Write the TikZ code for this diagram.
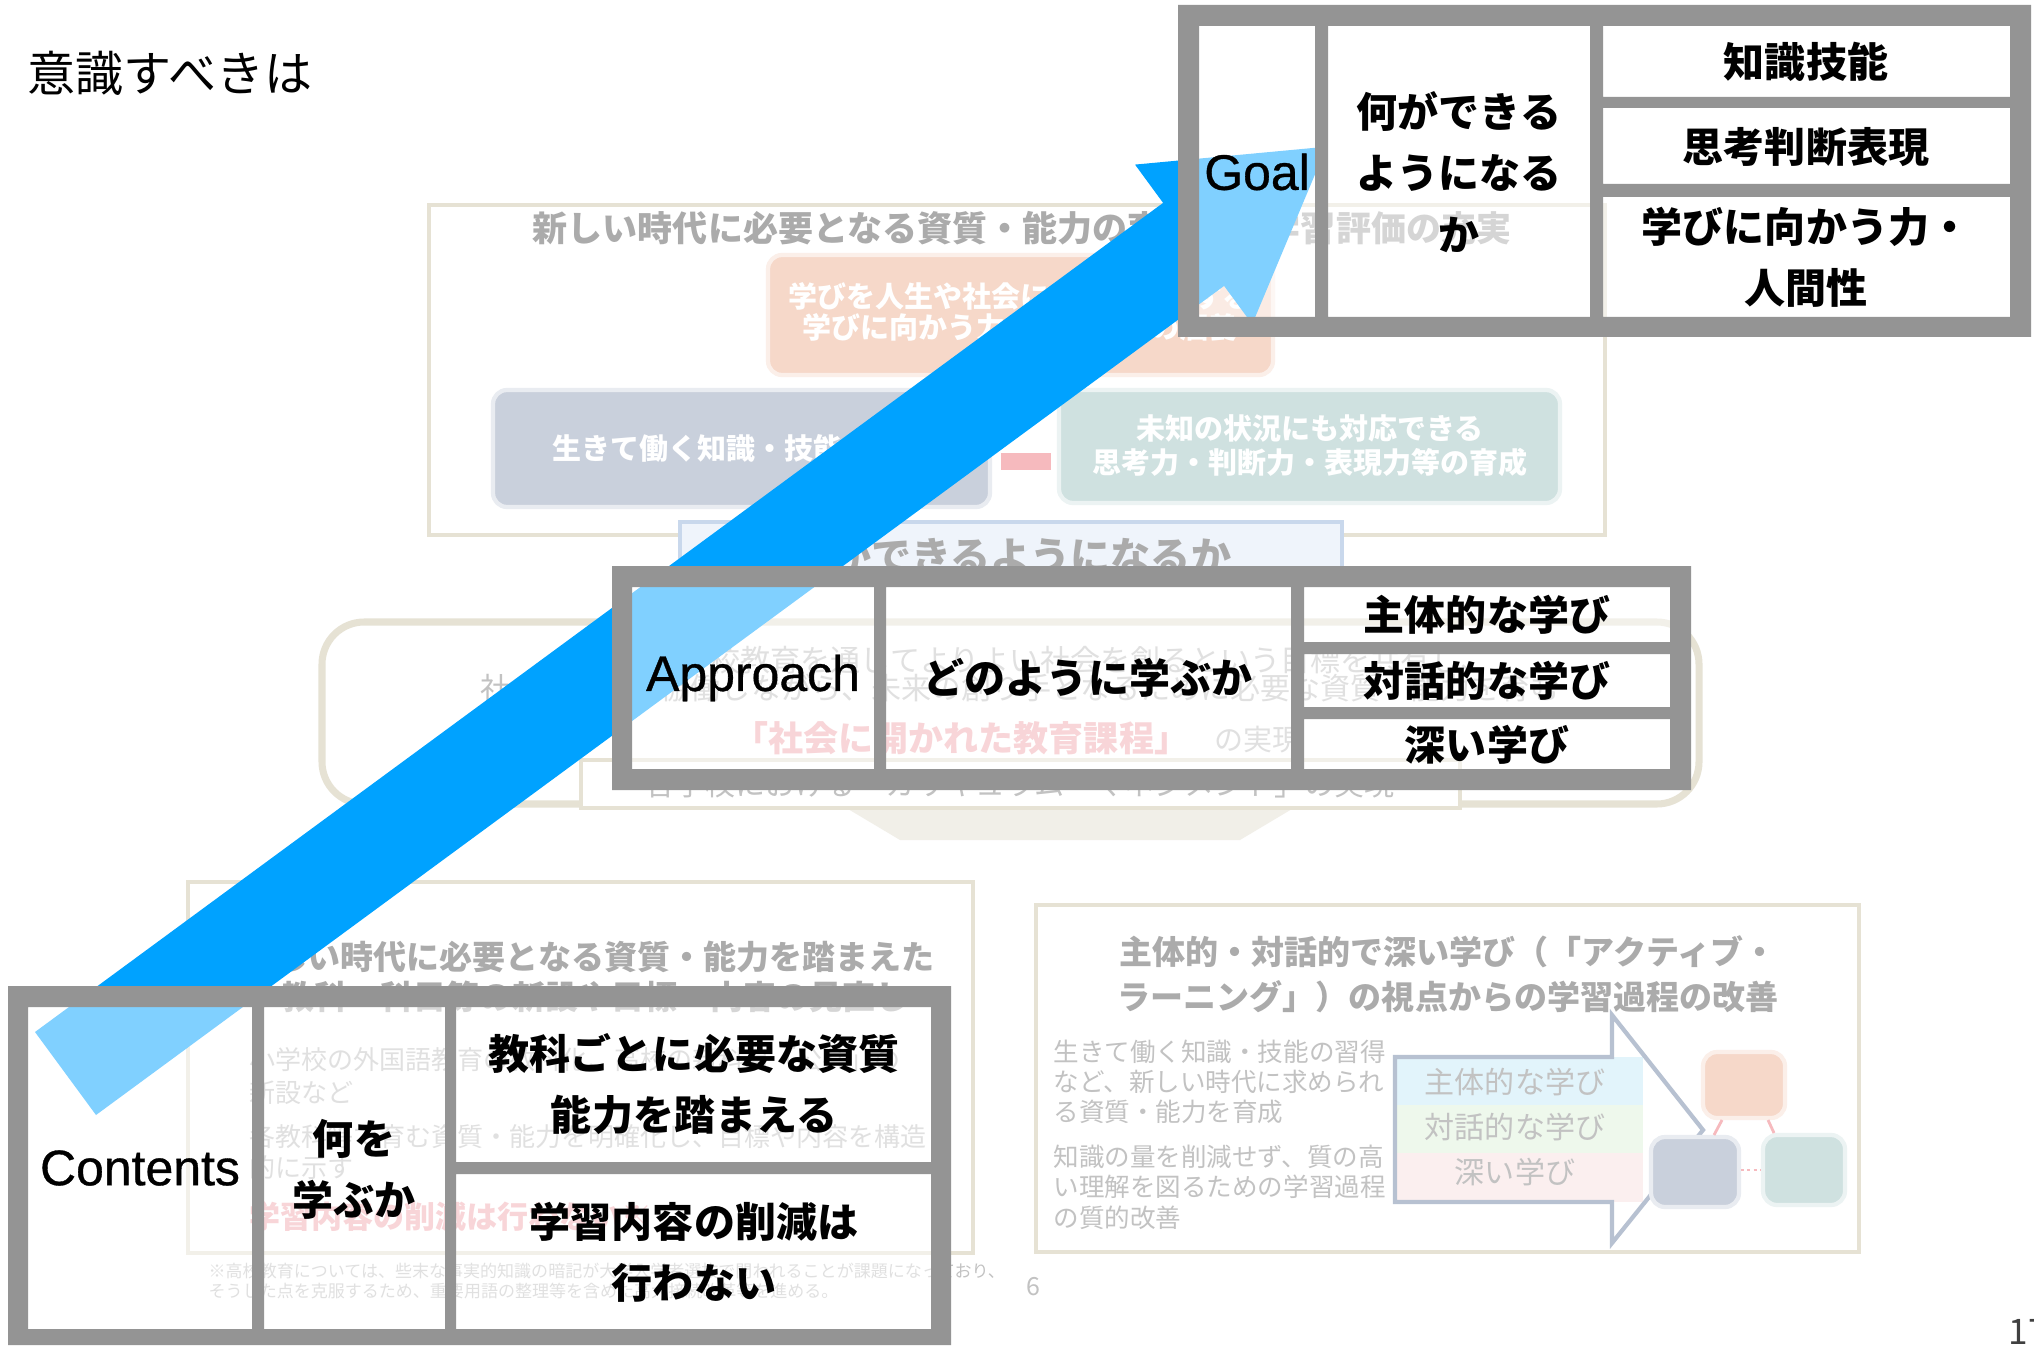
\documentclass[tikz,border=0pt]{standalone}
\usepackage{fontspec}
\setmainfont{Noto Sans CJK JP}
\newfontfamily\latinfont{Liberation Sans}[FakeBold=0.7]
\definecolor{boxgray}{HTML}{949494}
\definecolor{arrowblue}{HTML}{00A2FF}
\definecolor{bgtitle}{HTML}{ABABAB}
\definecolor{bgtext}{HTML}{C2C2C2}
\definecolor{bgred}{HTML}{F2ACB2}
\definecolor{beige}{HTML}{E6E2D4}
\definecolor{bannerfill}{HTML}{EFF4FB}
\definecolor{bannerline}{HTML}{C9D8EC}
\definecolor{peach}{HTML}{F6D8C9}
\definecolor{slate}{HTML}{C9D0DC}
\definecolor{bgteal}{HTML}{CFE1E0}
\definecolor{pinkc}{HTML}{F6BABE}
\definecolor{bandc}{HTML}{E2F4FB}
\definecolor{bandg}{HTML}{EEF8EC}
\definecolor{bandp}{HTML}{FBEFEF}
\definecolor{arrline}{HTML}{B7C1D1}
\definecolor{paleshape}{HTML}{F1EFE8}
\tikzset{
  lab/.style={inner sep=0, align=center, text=black, font=\bfseries\fontsize{11.67}{17.4}\selectfont},
  latin/.style={inner sep=0, text=black, font=\latinfont\fontsize{14.2}{17}\selectfont},
  bgb/.style={inner sep=0, text=bgtitle, font=\bfseries\fontsize{#1}{#1}\selectfont},
  bgr/.style={inner sep=0, text=bgtext, font=\fontsize{#1}{#1}\selectfont},
  bgw/.style={inner sep=0, text=white, font=\bfseries\fontsize{#1}{#1}\selectfont},
  bgred/.style={inner sep=0, text=bgred, font=\bfseries\fontsize{#1}{#1}\selectfont},
  frame/.style={draw=beige, line width=1pt, fill=white},
  banner/.style={draw=bannerline, line width=1.2pt, fill=bannerfill},
  softbox/.style={rounded corners=4pt, line width=1.2pt}
}
\begin{document}
\begin{tikzpicture}[x=0.01cm,y=-0.01cm]
\useasboundingbox (0,0) rectangle (2034,1346);
\fill[white] (0,0) rectangle (2034,1346);

% ================= faded background slide =================
% top frame
\draw[frame] (429,205) rectangle (1605,535);
\node[bgb=9.96] (bgT1) at (1022,228) {新しい時代に必要となる資質・能力の育成と、学習評価の充実};
\draw[softbox, fill=peach, draw=peach!40] (768,255) rectangle (1273,375);
\node[bgw=8.25] (bgO1) at (1020,296) {学びを人生や社会に生かそうとする};
\node[bgw=8.25] (bgO2) at (1020,327) {学びに向かう力・人間性等の涵養};
\draw[softbox, fill=slate, draw=slate!40] (493,390) rectangle (990,507);
\node[bgw=8.25] (bgS1) at (741,448) {生きて働く知識・技能の習得};
\fill[pinkc] (1001,453) rectangle (1051,470);
\draw[softbox, fill=bgteal, draw=bgteal!40] (1059,390) rectangle (1560,503);
\node[bgw=8.25] (bgG1) at (1310,428) {未知の状況にも対応できる};
\node[bgw=8.25] (bgG2) at (1310,462) {思考力・判断力・表現力等の育成};
\draw[banner] (680,522) rectangle (1342,572);
\node[bgb=11.4] (bgB1) at (1011,556) {何ができるようになるか};

% middle frame
\draw[draw=beige, line width=2pt, rounded corners=12pt, fill=white] (322,622) rectangle (1699,804);
\fill[paleshape] (843,806) -- (1297,806) -- (1240,840) -- (900,840) -- cycle;
\node[bgr=8.54, anchor=west] (bgM1) at (560,660) {よりよい学校教育を通じてよりよい社会を創るという目標を共有し、};
\node[bgr=8.54, anchor=west] (bgM2) at (480,688) {社会と連携・協働しながら、未来の創り手となるために必要な資質・能力を育む};
\node[bgred=9.96, anchor=west] (bgM3) at (733,738) {「社会に開かれた教育課程」};
\node[bgr=8.25, anchor=west] (bgM4) at (1214,740) {の実現};
\draw[frame] (581,760) rectangle (1460,808);
\node[bgr=8.54] (bgM5) at (1020,784) {各学校における「カリキュラム・マネジメント」の実現};

% lower-left frame
\draw[frame] (188,882) rectangle (973,1253);
\node[bgb=9.39] (bgL1) at (588,957) {新しい時代に必要となる資質・能力を踏まえた};
\node[bgb=9.39] (bgL2) at (595,997) {教科・科目等の新設や目標・内容の見直し};
\node[bgr=7.4, anchor=west] (bgL3) at (249,1060) {小学校の外国語教育の教科化、高校の新科目「公共」の};
\node[bgr=7.4, anchor=west] (bgL4) at (249,1093) {新設など};
\node[bgr=7.4, anchor=west] (bgL5) at (249,1137) {各教科等で育む資質・能力を明確化し、目標や内容を構造};
\node[bgr=7.4, anchor=west] (bgL6) at (249,1168) {的に示す};
\node[bgred=8.82, anchor=west] (bgL7) at (249,1217) {学習内容の削減は行わない※};
\node[bgr=4.84, anchor=west] (bgF1) at (208,1271) {※高校教育については、些末な事実的知識の暗記が大学入学者選抜で問われることが課題になっており、};
\node[bgr=4.84, anchor=west] (bgF2) at (208,1291) {そうした点を克服するため、重要用語の整理等を含めた高大接続改革等を進める。};
\node[bgr=7.1] (bgP6) at (1033,1287) {6};

% lower-right frame
\draw[frame] (1036,905) rectangle (1859,1252);
\node[bgb=9.39] (bgR1) at (1448,952) {主体的・対話的で深い学び（「アクティブ・};
\node[bgb=9.39] (bgR2) at (1448,997) {ラーニング」）の視点からの学習過程の改善};
\node[bgr=7.26, anchor=west] (bgR3) at (1053,1052) {生きて働く知識・技能の習得};
\node[bgr=7.26, anchor=west] (bgR4) at (1053,1082) {など、新しい時代に求められ};
\node[bgr=7.26, anchor=west] (bgR5) at (1053,1112) {る資質・能力を育成};
\node[bgr=7.26, anchor=west] (bgR6) at (1053,1157) {知識の量を削減せず、質の高};
\node[bgr=7.26, anchor=west] (bgR7) at (1053,1187) {い理解を図るための学習過程};
\node[bgr=7.26, anchor=west] (bgR8) at (1053,1218) {の質的改善};
\fill[white] (1395,1057) -- (1612,1057) -- (1612,1015) -- (1703,1130) -- (1612,1243) -- (1612,1202) -- (1395,1202) -- cycle;
\begin{scope}
  \clip (1395,1057) -- (1612,1057) -- (1612,1015) -- (1703,1130) -- (1612,1243) -- (1612,1202) -- (1395,1202) -- cycle;
  \fill[bandc] (1395,1057) rectangle (1643,1105);
  \fill[bandg] (1395,1105) rectangle (1643,1153);
  \fill[bandp] (1395,1153) rectangle (1643,1202);
\end{scope}
\draw[arrline, line width=1.2pt, line join=miter] (1395,1057) -- (1612,1057) -- (1612,1015) -- (1703,1130) -- (1612,1243) -- (1612,1202) -- (1395,1202) -- cycle;
\node[bgr=8.54] (bgA1) at (1515,1082) {主体的な学び};
\node[bgr=8.54] (bgA2) at (1515,1127) {対話的な学び};
\node[bgr=8.54] (bgA3) at (1515,1172) {深い学び};
\draw[softbox, fill=peach, draw=peach!40] (1703,1052) rectangle (1785,1118);
\draw[softbox, fill=slate, draw=slate!40] (1651,1137) rectangle (1739,1207);
\draw[softbox, fill=bgteal, draw=bgteal!40] (1763,1135) rectangle (1845,1205);
\draw[pinkc, line width=0.8pt] (1722,1120) -- (1714,1135) (1768,1120) -- (1774,1133);
\draw[pinkc, line width=0.8pt, densely dotted] (1741,1170) -- (1761,1170);

% ================= blue arrow =================
\fill[arrowblue] (35.0,1032.0) -- (1163.1,202.9) -- (1135.0,164.6) -- (1326.6,146.7)
  -- (1252.2,324.2) -- (1224.1,285.9) -- (96.0,1115.0) -- cycle;

% ================= cell overlays =================
\fill[white, fill opacity=0.5]
  (1199,26) rectangle (1315,317) (1328,26) rectangle (1590,317)
  (1603,26) rectangle (2010,97) (1603,108) rectangle (2010,184) (1603,197) rectangle (2010,317)
  (632,587) rectangle (874,769) (886,587) rectangle (1291,769)
  (1304,587) rectangle (1670,642) (1304,654) rectangle (1670,707) (1304,719) rectangle (1670,769)
  (28,1007) rectangle (252,1329) (264,1007) rectangle (445,1329)
  (456,1007) rectangle (931,1162) (456,1174) rectangle (931,1329);

% ================= gray frames =================
\fill[boxgray, even odd rule] (1178,5) rectangle (2031,337)
  (1199,26) rectangle (1315,317) (1328,26) rectangle (1590,317)
  (1603,26) rectangle (2010,97) (1603,108) rectangle (2010,184) (1603,197) rectangle (2010,317);
\fill[boxgray, even odd rule] (612,566) rectangle (1691,790)
  (632,587) rectangle (874,769) (886,587) rectangle (1291,769)
  (1304,587) rectangle (1670,642) (1304,654) rectangle (1670,707) (1304,719) rectangle (1670,769);
\fill[boxgray, even odd rule] (8,986) rectangle (951,1345)
  (28,1007) rectangle (252,1329) (264,1007) rectangle (445,1329)
  (456,1007) rectangle (931,1162) (456,1174) rectangle (931,1329);

% ================= labels =================
\node[inner sep=0, font=\fontsize{13.66}{16}\selectfont] (title) at (170,73) {意識すべきは};

\node[latin] (goal) at (1257,172) {Goal};
\node[lab] (goalq) at (1459,172) {何ができる\\ようになる\\か};
\node[lab] (g1) at (1806,62) {知識技能};
\node[lab] (g2) at (1806,147) {思考判断表現};
\node[lab] (g3) at (1806,257) {学びに向かう力・\\人間性};

\node[latin] (appr) at (753,678) {Approach};
\node[lab] (how) at (1088,678) {どのように学ぶか};
\node[lab] (a1) at (1487,615) {主体的な学び};
\node[lab] (a2) at (1487,681) {対話的な学び};
\node[lab] (a3) at (1487,745) {深い学び};

\node[latin] (cont) at (140,1168) {Contents};
\node[lab] (what) at (354,1169) {何を\\学ぶか};
\node[lab] (c1) at (694,1084) {教科ごとに必要な資質\\能力を踏まえる};
\node[lab] (c2) at (694,1252) {学習内容の削減は\\行わない};

\node[inner sep=0, anchor=base west, text=black!75, font=\fontsize{10}{12}\selectfont] (pg) at (2008,1344) {17};
\end{tikzpicture}
\end{document}
